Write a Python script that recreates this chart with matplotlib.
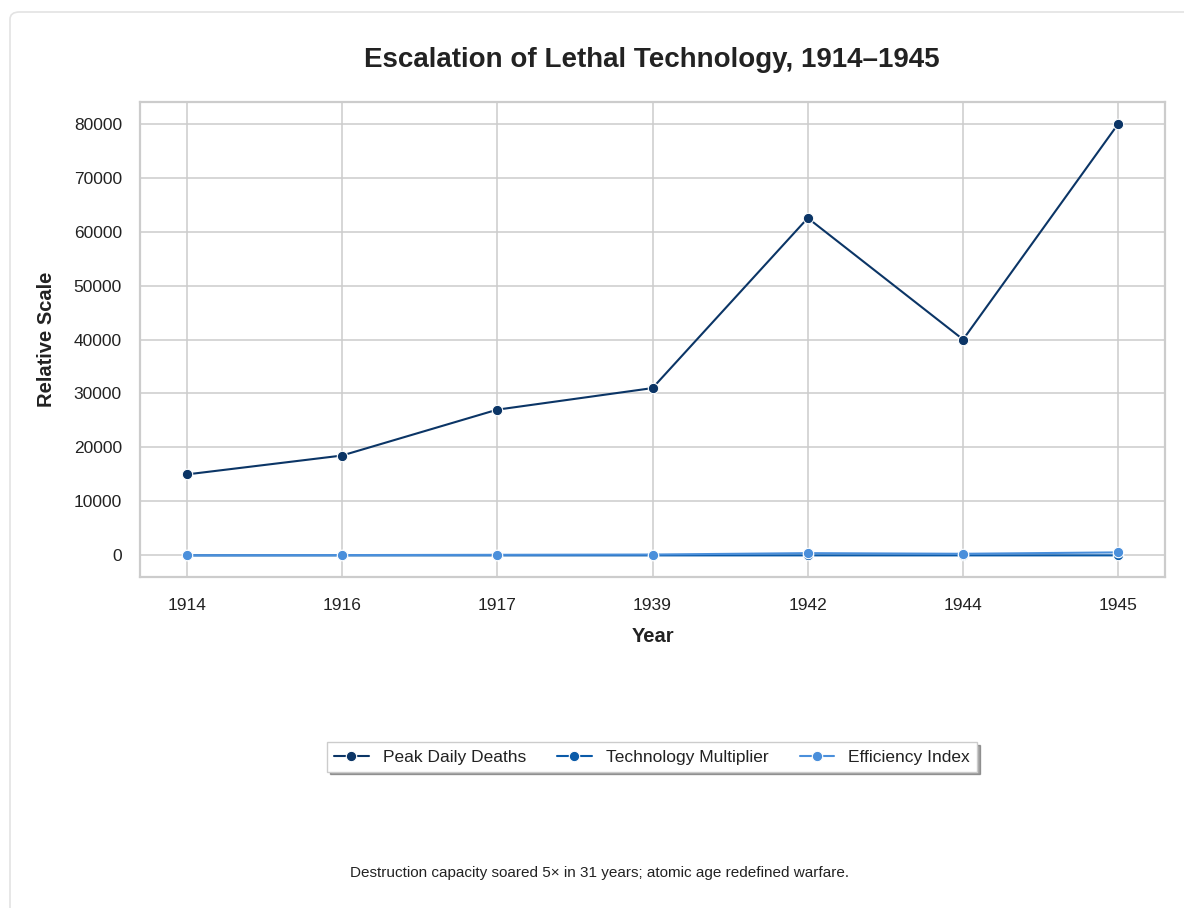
import matplotlib
matplotlib.use("Agg")
import matplotlib.pyplot as plt
import seaborn as sns
from matplotlib.patches import FancyBboxPatch

years = ["1914", "1916", "1917", "1939", "1942", "1944", "1945"]
peak_daily_deaths = [15000, 18500, 27000, 31000, 62500, 40000, 80000]
technology_multiplier = [1, 1.5, 2, 3, 5, 4, 5]
efficiency_index = [15, 60, 110, 160, 420, 300, 560]

sns.set_theme(style="whitegrid")
plt.rcParams['font.family'] = ['Liberation Sans', 'DejaVu Sans']

fig = plt.figure(figsize=(11.84, 9.08), dpi=100)
card = FancyBboxPatch((10/1184, -0.05), 1.2, 1 - 12/908 + 0.05,
                      boxstyle="round,pad=0,rounding_size=0.008",
                      transform=fig.transFigure, facecolor="white",
                      edgecolor="#e3e3e3", linewidth=1.2, zorder=-10)
fig.patches.append(card)

ax = fig.add_axes([140/1184, 1 - 577/908, (1165-140)/1184, (577-102)/908])
ax.set_facecolor("white")
x = list(range(len(years)))
ax.plot(x, peak_daily_deaths, marker="o", color="#0b3566", lw=1.5, ms=7.5,
        mec="white", mew=0.8, label="Peak Daily Deaths")
ax.plot(x, technology_multiplier, marker="o", color="#0a5aa8", lw=1.5, ms=7.5,
        mec="white", mew=0.8, label="Technology Multiplier")
ax.plot(x, efficiency_index, marker="o", color="#4a8fdb", lw=1.5, ms=7.5,
        mec="white", mew=0.8, label="Efficiency Index")
ax.set_xticks(x)
ax.set_xticklabels(years)
ax.set_xlim(-0.3, 6.3)
ax.set_ylim(-4000, 84000)
ax.set_yticks(range(0, 80001, 10000))
ax.tick_params(axis="x", labelsize=12.5, colors="#222222", pad=9)
ax.tick_params(axis="y", labelsize=12.5, colors="#222222", pad=7)
for s in ax.spines.values():
    s.set_color("#cccccc")
    s.set_linewidth(1.6)
ax.grid(True, color="#cccccc", lw=1.1)
ax.set_xlabel("Year", fontsize=14.5, fontweight="bold", color="#222222", labelpad=10)
ax.set_ylabel("Relative Scale", fontsize=14.5, fontweight="bold", color="#222222", labelpad=13)
fig.text(652/1184, 1 - 60/908, "Escalation of Lethal Technology, 1914\u20131945",
         ha="center", va="center", fontsize=20, fontweight="bold", color="#222222")
leg = ax.legend(loc="center", bbox_to_anchor=(652/1184, 1 - 757/908),
                bbox_transform=fig.transFigure, ncol=3, frameon=True,
                shadow=True, fontsize=12.5, fancybox=False, borderpad=0.4,
                columnspacing=1.8, handlelength=2.0)
leg.get_frame().set_edgecolor("#cccccc")
leg.get_frame().set_facecolor("white")
for t in leg.get_texts():
    t.set_color("#222222")
fig.text(600/1184, 1 - 873/908,
         "Destruction capacity soared 5\u00d7 in 31 years; atomic age redefined warfare.",
         ha="center", va="center", fontsize=11, color="#222222")
fig.savefig("out.png", dpi=100, facecolor="white")
